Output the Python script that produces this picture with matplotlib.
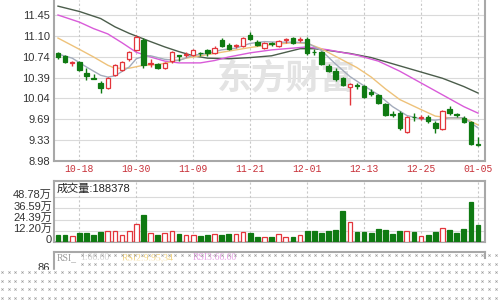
import numpy as np
import matplotlib
matplotlib.use("Agg")
import matplotlib.pyplot as plt
from matplotlib import transforms

plt.rcParams["font.family"] = ["Liberation Sans", "Noto Sans CJK SC"]

# candles (open, high, low, close)
opens = [10.80, 10.75, 10.64, 10.66, 10.47, 10.38, 10.30, 10.22, 10.44, 10.52,
         10.70, 10.86, 11.03, 10.62, 10.62, 10.55, 10.67, 10.77, 10.77, 10.78,
         10.81, 10.86, 10.81, 11.03, 10.94, 10.92, 10.93, 11.12, 11.00, 10.90,
         10.97, 10.93, 11.02, 11.06, 11.02, 11.04, 10.83, 10.82, 10.59, 10.50,
         10.38, 10.24, 10.26, 10.25, 10.15, 10.10, 9.94, 9.77, 9.79, 9.47,
         9.73, 9.70, 9.73, 9.62, 9.52, 9.86, 9.77, 9.71, 9.64, 9.26]
highs = [10.83, 10.77, 10.67, 10.67, 10.55, 10.46, 10.33, 10.40, 10.62, 10.68,
         10.84, 11.12, 11.06, 10.70, 10.64, 10.65, 10.84, 10.78, 10.83, 10.88,
         10.83, 10.88, 10.92, 11.06, 10.97, 10.96, 11.08, 11.17, 11.02, 11.00,
         11.00, 11.03, 11.06, 11.08, 11.08, 11.07, 10.87, 10.84, 10.62, 10.55,
         10.40, 10.30, 10.30, 10.27, 10.19, 10.12, 9.96, 9.82, 9.82, 9.74,
         9.79, 9.76, 9.76, 9.66, 9.85, 9.91, 9.80, 9.74, 9.66, 9.39]
lows = [10.71, 10.63, 10.58, 10.51, 10.35, 10.36, 10.13, 10.19, 10.42, 10.51,
        10.68, 10.84, 10.56, 10.57, 10.53, 10.53, 10.64, 10.68, 10.74, 10.76,
        10.75, 10.76, 10.79, 10.91, 10.85, 10.89, 10.91, 11.03, 10.92, 10.88,
        10.92, 10.91, 10.98, 10.96, 10.99, 10.78, 10.78, 10.60, 10.48, 10.34,
        10.25, 9.93, 10.20, 10.04, 10.08, 9.94, 9.74, 9.72, 9.50, 9.45,
        9.66, 9.68, 9.63, 9.45, 9.50, 9.75, 9.72, 9.62, 9.25, 9.23]
closes = [10.74, 10.66, 10.66, 10.52, 10.41, 10.37, 10.22, 10.38, 10.60, 10.66,
          10.82, 11.08, 10.60, 10.64, 10.56, 10.63, 10.82, 10.76, 10.79, 10.85,
          10.80, 10.80, 10.90, 10.93, 10.87, 10.95, 11.06, 11.05, 10.94, 10.98,
          10.96, 11.01, 11.04, 10.98, 11.04, 10.81, 10.82, 10.62, 10.50, 10.37,
          10.27, 10.29, 10.25, 10.06, 10.12, 9.96, 9.76, 9.76, 9.54, 9.72,
          9.72, 9.73, 9.65, 9.54, 9.83, 9.79, 9.76, 9.64, 9.27, 9.25]

# volume in 万
volumes = [7.3, 7.3, 6.2, 9.8, 9.8, 7.3, 10.8, 12.3, 12.3, 7.3,
           11.5, 19.5, 29.6, 9.8, 7.3, 9.8, 11.5, 8.8, 7.3, 7.3,
           6.2, 8.0, 8.8, 7.3, 8.8, 8.8, 10.8, 9.6, 6.0, 5.2,
           6.0, 9.0, 6.0, 6.0, 7.4, 11.8, 12.3, 9.6, 12.3, 13.6,
           33.5, 22.3, 11.0, 11.0, 9.7, 14.7, 13.6, 8.4, 12.3, 12.3,
           11.0, 6.3, 7.4, 11.0, 15.4, 13.6, 10.0, 14.7, 43.7, 18.84]

# moving average lines (index, value)
ma5_idx = [0, 2, 4, 6, 7, 8, 10, 11, 12, 13, 15, 17, 19, 21, 23, 25, 27, 29,
           31, 33, 35, 37, 39, 41, 43, 45, 47, 49, 51, 53, 55, 57, 59]
ma5 = [10.79, 10.72, 10.57, 10.43, 10.40, 10.42, 10.57, 10.71, 10.75, 10.76,
       10.70, 10.68, 10.77, 10.80, 10.86, 10.89, 10.97, 11.00, 10.99, 10.99,
       10.98, 10.85, 10.62, 10.41, 10.25, 10.10, 9.90, 9.75, 9.69, 9.67,
       9.71, 9.71, 9.54]
ma10_idx = [0, 3, 5, 7, 8, 10, 12, 14, 16, 18, 21, 24, 27, 30, 33, 35, 37, 39,
            42, 44, 46, 48, 51, 53, 55, 57, 59]
ma10 = [11.06, 10.87, 10.74, 10.60, 10.55, 10.55, 10.60, 10.61, 10.66, 10.72,
        10.78, 10.84, 10.90, 10.95, 10.98, 10.97, 10.88, 10.75, 10.56, 10.40,
        10.20, 10.02, 9.85, 9.74, 9.71, 9.71, 9.59]
ma20_idx = [0, 3, 5, 7, 9, 11, 13, 15, 17, 20, 22, 24, 27, 30, 33, 35, 38, 42,
            45, 48, 51, 54, 57, 59]
ma20 = [11.45, 11.33, 11.22, 11.13, 10.98, 10.82, 10.74, 10.67, 10.64, 10.64,
        10.68, 10.74, 10.81, 10.86, 10.89, 10.91, 10.86, 10.77, 10.67, 10.50,
        10.30, 10.10, 9.90, 9.79]
ma60_idx = [0, 3, 6, 8, 10, 13, 15, 17, 19, 21, 24, 27, 30, 32, 34, 36, 38, 41,
            44, 46, 48, 50, 54, 57, 59]
ma60 = [11.60, 11.51, 11.39, 11.25, 11.14, 11.00, 10.91, 10.83, 10.76, 10.72,
        10.71, 10.73, 10.76, 10.82, 10.88, 10.88, 10.85, 10.80, 10.73, 10.66,
        10.59, 10.52, 10.38, 10.24, 10.13]

date_idx = [3, 11, 19, 27, 35, 43, 51, 59]
date_labels = ["10-18", "10-30", "11-09", "11-21", "12-01", "12-13", "12-25", "01-05"]
price_ticks = [11.45, 11.10, 10.74, 10.39, 10.04, 9.69, 9.33, 8.98]
vol_ticks = [48.78, 36.59, 24.39, 12.20, 0]
vol_tick_labels = ["48.78万", "36.59万", "24.39万", "12.20万", "0"]
last_volume = "188378"

UP = "#e3353b"
DOWN = "#0f7a12"
FRAME = "#a8a8a8"
GRID = "#dadada"

W, H = 500, 300
fig = plt.figure(figsize=(5, 3), dpi=100)
fig.patch.set_facecolor("white")


def px_axes(left, top, right, bottom):
    return fig.add_axes([left / W, 1 - bottom / H, (right - left) / W, (bottom - top) / H])


def style_frame(ax):
    for s in ax.spines.values():
        s.set_color(FRAME)
        s.set_linewidth(1.5)
    ax.tick_params(length=0, labelsize=8, colors="#333333", pad=3)


n = len(closes)
x = np.arange(n)
xlim = (-0.56, 59.98)

# ---- price panel
ax = px_axes(54, 0, 485, 161)
style_frame(ax)
ax.spines["top"].set_visible(False)
ax.set_xlim(*xlim)
ax.set_ylim(8.98, 11.704)
ax.set_yticks(price_ticks)
ax.set_yticklabels([f"{v:.2f}" for v in price_ticks])
ax.set_xticks([])
for v in price_ticks:
    ax.axhline(v, color=GRID, lw=0.8, zorder=0)
for i in date_idx:
    ax.axvline(i, color="#c8c8c8", lw=0.8, ls=(0, (2, 2)), zorder=0)

# watermark, behind the marks
ax.text((286 - 54) / 431, 1 - 78 / 161, "东方财富", transform=ax.transAxes,
        family=["Noto Sans CJK SC"], fontsize=25, weight="bold", color="#e3e3e3",
        ha="center", va="center", zorder=1)

ax.plot(ma60_idx, ma60, color="#4b5d4b", lw=1, zorder=2)
ax.plot(ma20_idx, ma20, color="#d95bd9", lw=1, zorder=2)
ax.plot(ma10_idx, ma10, color="#eec27a", lw=1, zorder=2)
ax.plot(ma5_idx, ma5, color="#a4acbc", lw=1, zorder=2)

o = np.array(opens)
c = np.array(closes)
up = c >= o
cols = np.where(up, UP, DOWN)
ax.vlines(x, lows, highs, colors=cols, lw=1, zorder=3)
body_lo = np.minimum(o, c)
body_h = np.maximum(np.abs(c - o), 0.008)
ax.bar(x, body_h, bottom=body_lo, width=0.62,
       color=np.where(up, "white", DOWN), edgecolor=cols, linewidth=0.9, zorder=4)

for i, lab in zip(date_idx, date_labels):
    ax.text(i, -0.02, lab, transform=ax.get_xaxis_transform(), ha="center", va="top",
            family="Liberation Mono", fontsize=7, color="#c8323a")

# ---- volume panel
axv = px_axes(54, 181, 485, 242)
style_frame(axv)
axv.set_xlim(*xlim)
axv.set_ylim(0, 66.6)
axv.set_xticks([])
axv.set_yticks([])
for v in vol_ticks[:-1]:
    axv.axhline(v, color=GRID, lw=0.8, zorder=0)
for i in date_idx:
    axv.axvline(i, color="#c8c8c8", lw=0.8, ls=(0, (2, 2)), zorder=0)
axv.bar(x, volumes, width=0.66, color=np.where(up, "white", DOWN), edgecolor=cols,
        linewidth=0.9, zorder=3)
lab_tr = transforms.offset_copy(axv.get_yaxis_transform(), fig=fig, x=-2, y=2, units="dots")
for v, lab in zip(vol_ticks, vol_tick_labels):
    axv.text(0, v, lab, transform=lab_tr, ha="right", va="center", fontsize=8, color="#333333")
axv.text(0.006, 0.87, "成交量:" + last_volume, transform=axv.transAxes, ha="left",
         va="center", fontsize=8, color="#222222")

# ---- RSI panel (partly covered)
axr = px_axes(54, 252, 485, 272)
style_frame(axr)
axr.spines["bottom"].set_visible(False)
axr.spines["right"].set_bounds(0.7, 1)
axr.set_xlim(0, 1)
axr.set_ylim(0, 1)
axr.set_xticks([])
axr.set_yticks([])
axr.text(-0.01, 0.2, "86", transform=axr.transAxes, ha="right", va="center", fontsize=8,
         color="#333333")
for xp, txt, col in [(57, "RSI_", "#999999"), (80, "1:66.60", "#d0d0d0"),
                     (122, "RSI2:9.95,34", "#f1d27c"), (193, "RSI3:66.60", "#e6a0e6")]:
    fig.text(xp / W, 1 - 258 / H, txt, fontsize=7, family="Liberation Serif", color=col,
             ha="left", va="center")

# ---- dotted overlay at the bottom
axo = fig.add_axes([0, 0, 1, 1], zorder=10)
axo.set_xlim(0, W)
axo.set_ylim(H, 0)
axo.axis("off")
axo.patch.set_alpha(0)
axo.add_patch(plt.Rectangle((0, 270), W, 30, color="white", zorder=0))
axo.add_patch(plt.Rectangle((77, 260), 410, 12, color="white", alpha=0.5, zorder=0))
dx = np.arange(2, W, 6.67)
pts = []
for ry in [255, 263.5, 272, 280.5, 289, 297.5]:
    xs = dx[dx >= 80] if ry < 270 else dx
    pts += [(xx, ry) for xx in xs]
pts = np.array(pts)
axo.scatter(pts[:, 0], pts[:, 1], marker="x", s=2.5, lw=0.5, color="#9c9c9c", zorder=1)

fig.savefig("out.png", dpi=100)
